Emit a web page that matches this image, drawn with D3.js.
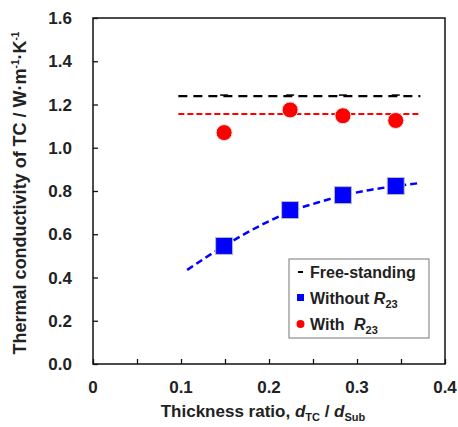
<html lang="en">
<head>
<meta charset="utf-8">
<title>Thermal conductivity vs thickness ratio</title>
<style>
  body { margin: 0; background: #fff; }
  text { font-family: "Liberation Sans", Arial, sans-serif; font-weight: bold; fill: #222; }
</style>
</head>
<body>
<div id="chart"></div>
<script src="https://cdnjs.cloudflare.com/ajax/libs/d3/7.8.5/d3.min.js"></script>
<script>
// data
var ratios = [0.149, 0.224, 0.284, 0.344];
var withoutR23 = [0.546, 0.712, 0.781, 0.823];
var withR23 = [1.07, 1.175, 1.148, 1.126];
var freeStanding = 1.239;
var withMean = 1.156;
var lineRange = [0.097, 0.372];
// dashed fit through the "without" points
var fitX = [0.107, 0.149, 0.19, 0.224, 0.26, 0.284, 0.315, 0.344, 0.372];
var fitY = [0.435, 0.546, 0.64, 0.705, 0.752, 0.779, 0.805, 0.823, 0.837];
var xTicks = [0, 0.1, 0.2, 0.3, 0.4];
var yTicks = [0, 0.2, 0.4, 0.6, 0.8, 1.0, 1.2, 1.4, 1.6];

var W = 458, H = 427;
var margin = {top: 18, right: 13, bottom: 63, left: 93};
var width = W - margin.left - margin.right;
var height = H - margin.top - margin.bottom;

var svg = d3.select("#chart").append("svg")
    .attr("width", W).attr("height", H);
var g = svg.append("g")
    .attr("transform", "translate(" + margin.left + "," + margin.top + ")");

var x = d3.scaleLinear().domain([0, 0.4]).range([0, width]);
var y = d3.scaleLinear().domain([0, 1.6]).range([height, 0]);

// frame
g.append("rect").attr("width", width).attr("height", height)
    .attr("fill", "none").attr("stroke", "#111").attr("stroke-width", 1.5);

// ticks (inward)
g.append("g").attr("transform", "translate(0," + height + ")")
    .call(d3.axisBottom(x).tickValues(d3.range(0, 0.401, 0.05)).tickSize(-5).tickFormat(""))
    .call(function(a) { a.select(".domain").remove(); a.selectAll("line").attr("stroke", "#111").attr("stroke-width", 1.3); });
g.append("g")
    .call(d3.axisLeft(y).tickValues(yTicks).tickSize(-5).tickFormat(""))
    .call(function(a) { a.select(".domain").remove(); a.selectAll("line").attr("stroke", "#111").attr("stroke-width", 1.3); });

// tick labels
g.selectAll("text.xl").data(xTicks).enter().append("text")
    .attr("x", function(d) { return x(d); }).attr("y", height + 29)
    .attr("text-anchor", "middle").style("font-size", "17px")
    .text(function(d) { return d === 0 ? "0" : d.toFixed(1); });
g.selectAll("text.yl").data(yTicks).enter().append("text")
    .attr("x", -21).attr("y", function(d) { return y(d) + 6; })
    .attr("text-anchor", "end").style("font-size", "17px")
    .text(function(d) { return d.toFixed(1); });

// axis titles
var xt = svg.append("text").attr("x", 263).attr("y", 417)
    .attr("text-anchor", "middle").style("font-size", "17px");
xt.append("tspan").text("Thickness ratio, ");
xt.append("tspan").attr("font-style", "italic").text("d");
xt.append("tspan").attr("dy", 4).style("font-size", "11px").text("TC");
xt.append("tspan").attr("dy", -4).text(" / ");
xt.append("tspan").attr("font-style", "italic").text("d");
xt.append("tspan").attr("dy", 4).style("font-size", "11px").text("Sub");

var yt = svg.append("text")
    .attr("transform", "translate(26,193) rotate(-90)")
    .attr("text-anchor", "middle").style("font-size", "18px");
yt.append("tspan").text("Thermal conductivity of TC / W\u00b7m");
yt.append("tspan").attr("dy", -7).style("font-size", "10px").text("-1");
yt.append("tspan").attr("dy", 7).text("\u00b7K");
yt.append("tspan").attr("dy", -7).style("font-size", "10px").text("-1");

// horizontal reference lines
g.append("line").attr("x1", x(lineRange[0])).attr("x2", x(lineRange[1]))
    .attr("y1", y(freeStanding)).attr("y2", y(freeStanding))
    .attr("stroke", "#000").attr("stroke-width", 2.2).attr("stroke-dasharray", "9,6");
g.selectAll("line.fs").data(ratios).enter().append("line")
    .attr("x1", function(d) { return x(d) - 4; }).attr("x2", function(d) { return x(d) + 4; })
    .attr("y1", y(freeStanding) - 1).attr("y2", y(freeStanding) - 1)
    .attr("stroke", "#000").attr("stroke-width", 1.5);
g.append("line").attr("x1", x(lineRange[0])).attr("x2", x(lineRange[1]))
    .attr("y1", y(withMean)).attr("y2", y(withMean))
    .attr("stroke", "#f00").attr("stroke-width", 2.2).attr("stroke-dasharray", "6,3");

// fit curve
var fit = fitX.map(function(d, i) { return [d, fitY[i]]; });
g.append("path").datum(fit)
    .attr("d", d3.line().x(function(d) { return x(d[0]); }).y(function(d) { return y(d[1]); }).curve(d3.curveMonotoneX))
    .attr("fill", "none").attr("stroke", "#00f").attr("stroke-width", 2.5).attr("stroke-dasharray", "7,4");

// markers
g.selectAll("circle.w").data(ratios).enter().append("circle")
    .attr("cx", function(d) { return x(d); })
    .attr("cy", function(d, i) { return y(withR23[i]); })
    .attr("r", 8).attr("fill", "#f00").attr("stroke", "#e6e6e6").attr("stroke-width", 1);
g.selectAll("rect.wo").data(ratios).enter().append("rect")
    .attr("x", function(d) { return x(d) - 8.5; })
    .attr("y", function(d, i) { return y(withoutR23[i]) - 8.5; })
    .attr("width", 17).attr("height", 17)
    .attr("fill", "#00f").attr("stroke", "#bbb").attr("stroke-width", 1);

// legend
var lg = svg.append("g").attr("transform", "translate(289,259)");
lg.append("rect").attr("width", 140).attr("height", 79)
    .attr("fill", "#fff").attr("stroke", "#777").attr("stroke-width", 1);
lg.append("line").attr("x1", 9).attr("x2", 14).attr("y1", 13).attr("y2", 13)
    .attr("stroke", "#000").attr("stroke-width", 2);
lg.append("rect").attr("x", 8).attr("y", 35).attr("width", 7).attr("height", 7).attr("fill", "#00f");
lg.append("circle").attr("cx", 11.5).attr("cy", 65).attr("r", 4).attr("fill", "#f00");
lg.append("text").attr("x", 21).attr("y", 19).style("font-size", "16px").text("Free-standing");
var l2 = lg.append("text").attr("x", 21).attr("y", 45).style("font-size", "16px");
l2.append("tspan").text("Without ");
l2.append("tspan").attr("font-style", "italic").text("R");
l2.append("tspan").attr("dy", 4).style("font-size", "11px").text("23");
var l3 = lg.append("text").attr("x", 21).attr("y", 71).style("font-size", "16px");
l3.append("tspan").text("With ");
l3.append("tspan").attr("dx", 5).attr("font-style", "italic").text("R");
l3.append("tspan").attr("dy", 4).style("font-size", "11px").text("23");
</script>
</body>
</html>
